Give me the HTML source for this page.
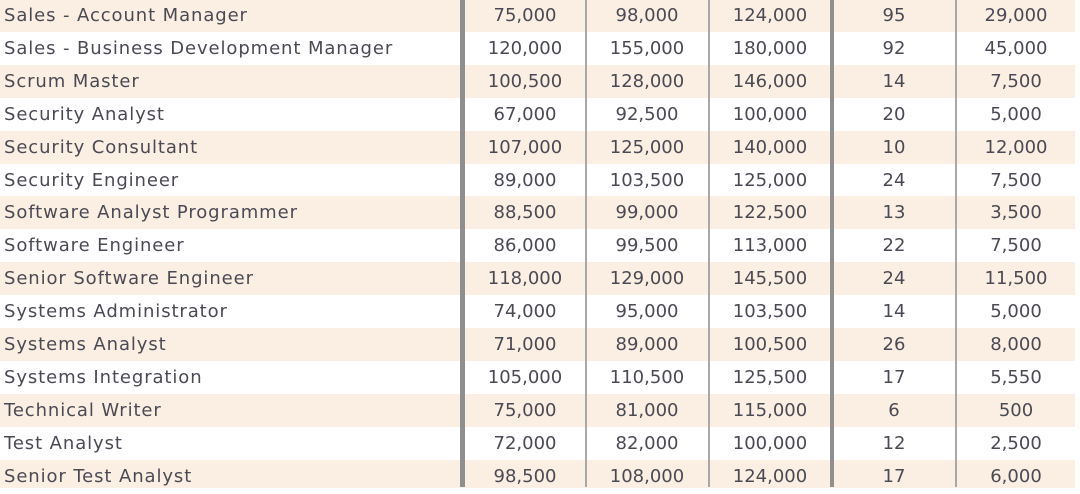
<!DOCTYPE html>
<html><head><meta charset="utf-8"><style>
body{margin:0;width:1080px;height:487px;overflow:hidden;background:#fff;font-family:"DejaVu Sans","Liberation Sans",sans-serif;font-size:18px;color:#4a4a55;position:relative}
.r{position:absolute;left:0;width:1075px;height:33px;line-height:34px}
.s{background:#fbeee2}
.r span{position:absolute;top:0;text-align:center}
.n{left:4px;text-align:left!important;letter-spacing:0.9px}
.c2{left:465px;width:120px}.c3{left:587px;width:120px}.c4{left:710px;width:120px}.c5{left:834px;width:120px}.c6{left:957px;width:118px}
.v{position:absolute;top:0;height:487px;background:#a8a8a8}
</style></head><body>
<div class="r s" style="top:-1px"><span class="n">Sales - Account Manager</span><span class="c2">75,000</span><span class="c3">98,000</span><span class="c4">124,000</span><span class="c5">95</span><span class="c6">29,000</span></div>
<div class="r" style="top:31.9px"><span class="n">Sales - Business Development Manager</span><span class="c2">120,000</span><span class="c3">155,000</span><span class="c4">180,000</span><span class="c5">92</span><span class="c6">45,000</span></div>
<div class="r s" style="top:64.8px"><span class="n">Scrum Master</span><span class="c2">100,500</span><span class="c3">128,000</span><span class="c4">146,000</span><span class="c5">14</span><span class="c6">7,500</span></div>
<div class="r" style="top:97.7px"><span class="n">Security Analyst</span><span class="c2">67,000</span><span class="c3">92,500</span><span class="c4">100,000</span><span class="c5">20</span><span class="c6">5,000</span></div>
<div class="r s" style="top:130.6px"><span class="n">Security Consultant</span><span class="c2">107,000</span><span class="c3">125,000</span><span class="c4">140,000</span><span class="c5">10</span><span class="c6">12,000</span></div>
<div class="r" style="top:163.5px"><span class="n">Security Engineer</span><span class="c2">89,000</span><span class="c3">103,500</span><span class="c4">125,000</span><span class="c5">24</span><span class="c6">7,500</span></div>
<div class="r s" style="top:196.4px"><span class="n">Software Analyst Programmer</span><span class="c2">88,500</span><span class="c3">99,000</span><span class="c4">122,500</span><span class="c5">13</span><span class="c6">3,500</span></div>
<div class="r" style="top:229.3px"><span class="n">Software Engineer</span><span class="c2">86,000</span><span class="c3">99,500</span><span class="c4">113,000</span><span class="c5">22</span><span class="c6">7,500</span></div>
<div class="r s" style="top:262.2px"><span class="n">Senior Software Engineer</span><span class="c2">118,000</span><span class="c3">129,000</span><span class="c4">145,500</span><span class="c5">24</span><span class="c6">11,500</span></div>
<div class="r" style="top:295.1px"><span class="n">Systems Administrator</span><span class="c2">74,000</span><span class="c3">95,000</span><span class="c4">103,500</span><span class="c5">14</span><span class="c6">5,000</span></div>
<div class="r s" style="top:328px"><span class="n">Systems Analyst</span><span class="c2">71,000</span><span class="c3">89,000</span><span class="c4">100,500</span><span class="c5">26</span><span class="c6">8,000</span></div>
<div class="r" style="top:360.9px"><span class="n">Systems Integration</span><span class="c2">105,000</span><span class="c3">110,500</span><span class="c4">125,500</span><span class="c5">17</span><span class="c6">5,550</span></div>
<div class="r s" style="top:393.8px"><span class="n">Technical Writer</span><span class="c2">75,000</span><span class="c3">81,000</span><span class="c4">115,000</span><span class="c5">6</span><span class="c6">500</span></div>
<div class="r" style="top:426.7px"><span class="n">Test Analyst</span><span class="c2">72,000</span><span class="c3">82,000</span><span class="c4">100,000</span><span class="c5">12</span><span class="c6">2,500</span></div>
<div class="r s" style="top:459.6px;height:28px"><span class="n">Senior Test Analyst</span><span class="c2">98,500</span><span class="c3">108,000</span><span class="c4">124,000</span><span class="c5">17</span><span class="c6">6,000</span></div>
<div class="v" style="left:460px;width:5px;background:#8f8f8f"></div>
<div class="v" style="left:585px;width:2px"></div>
<div class="v" style="left:708px;width:2px"></div>
<div class="v" style="left:830px;width:4px;background:#8f8f8f"></div>
<div class="v" style="left:955px;width:2px"></div>
</body></html>
